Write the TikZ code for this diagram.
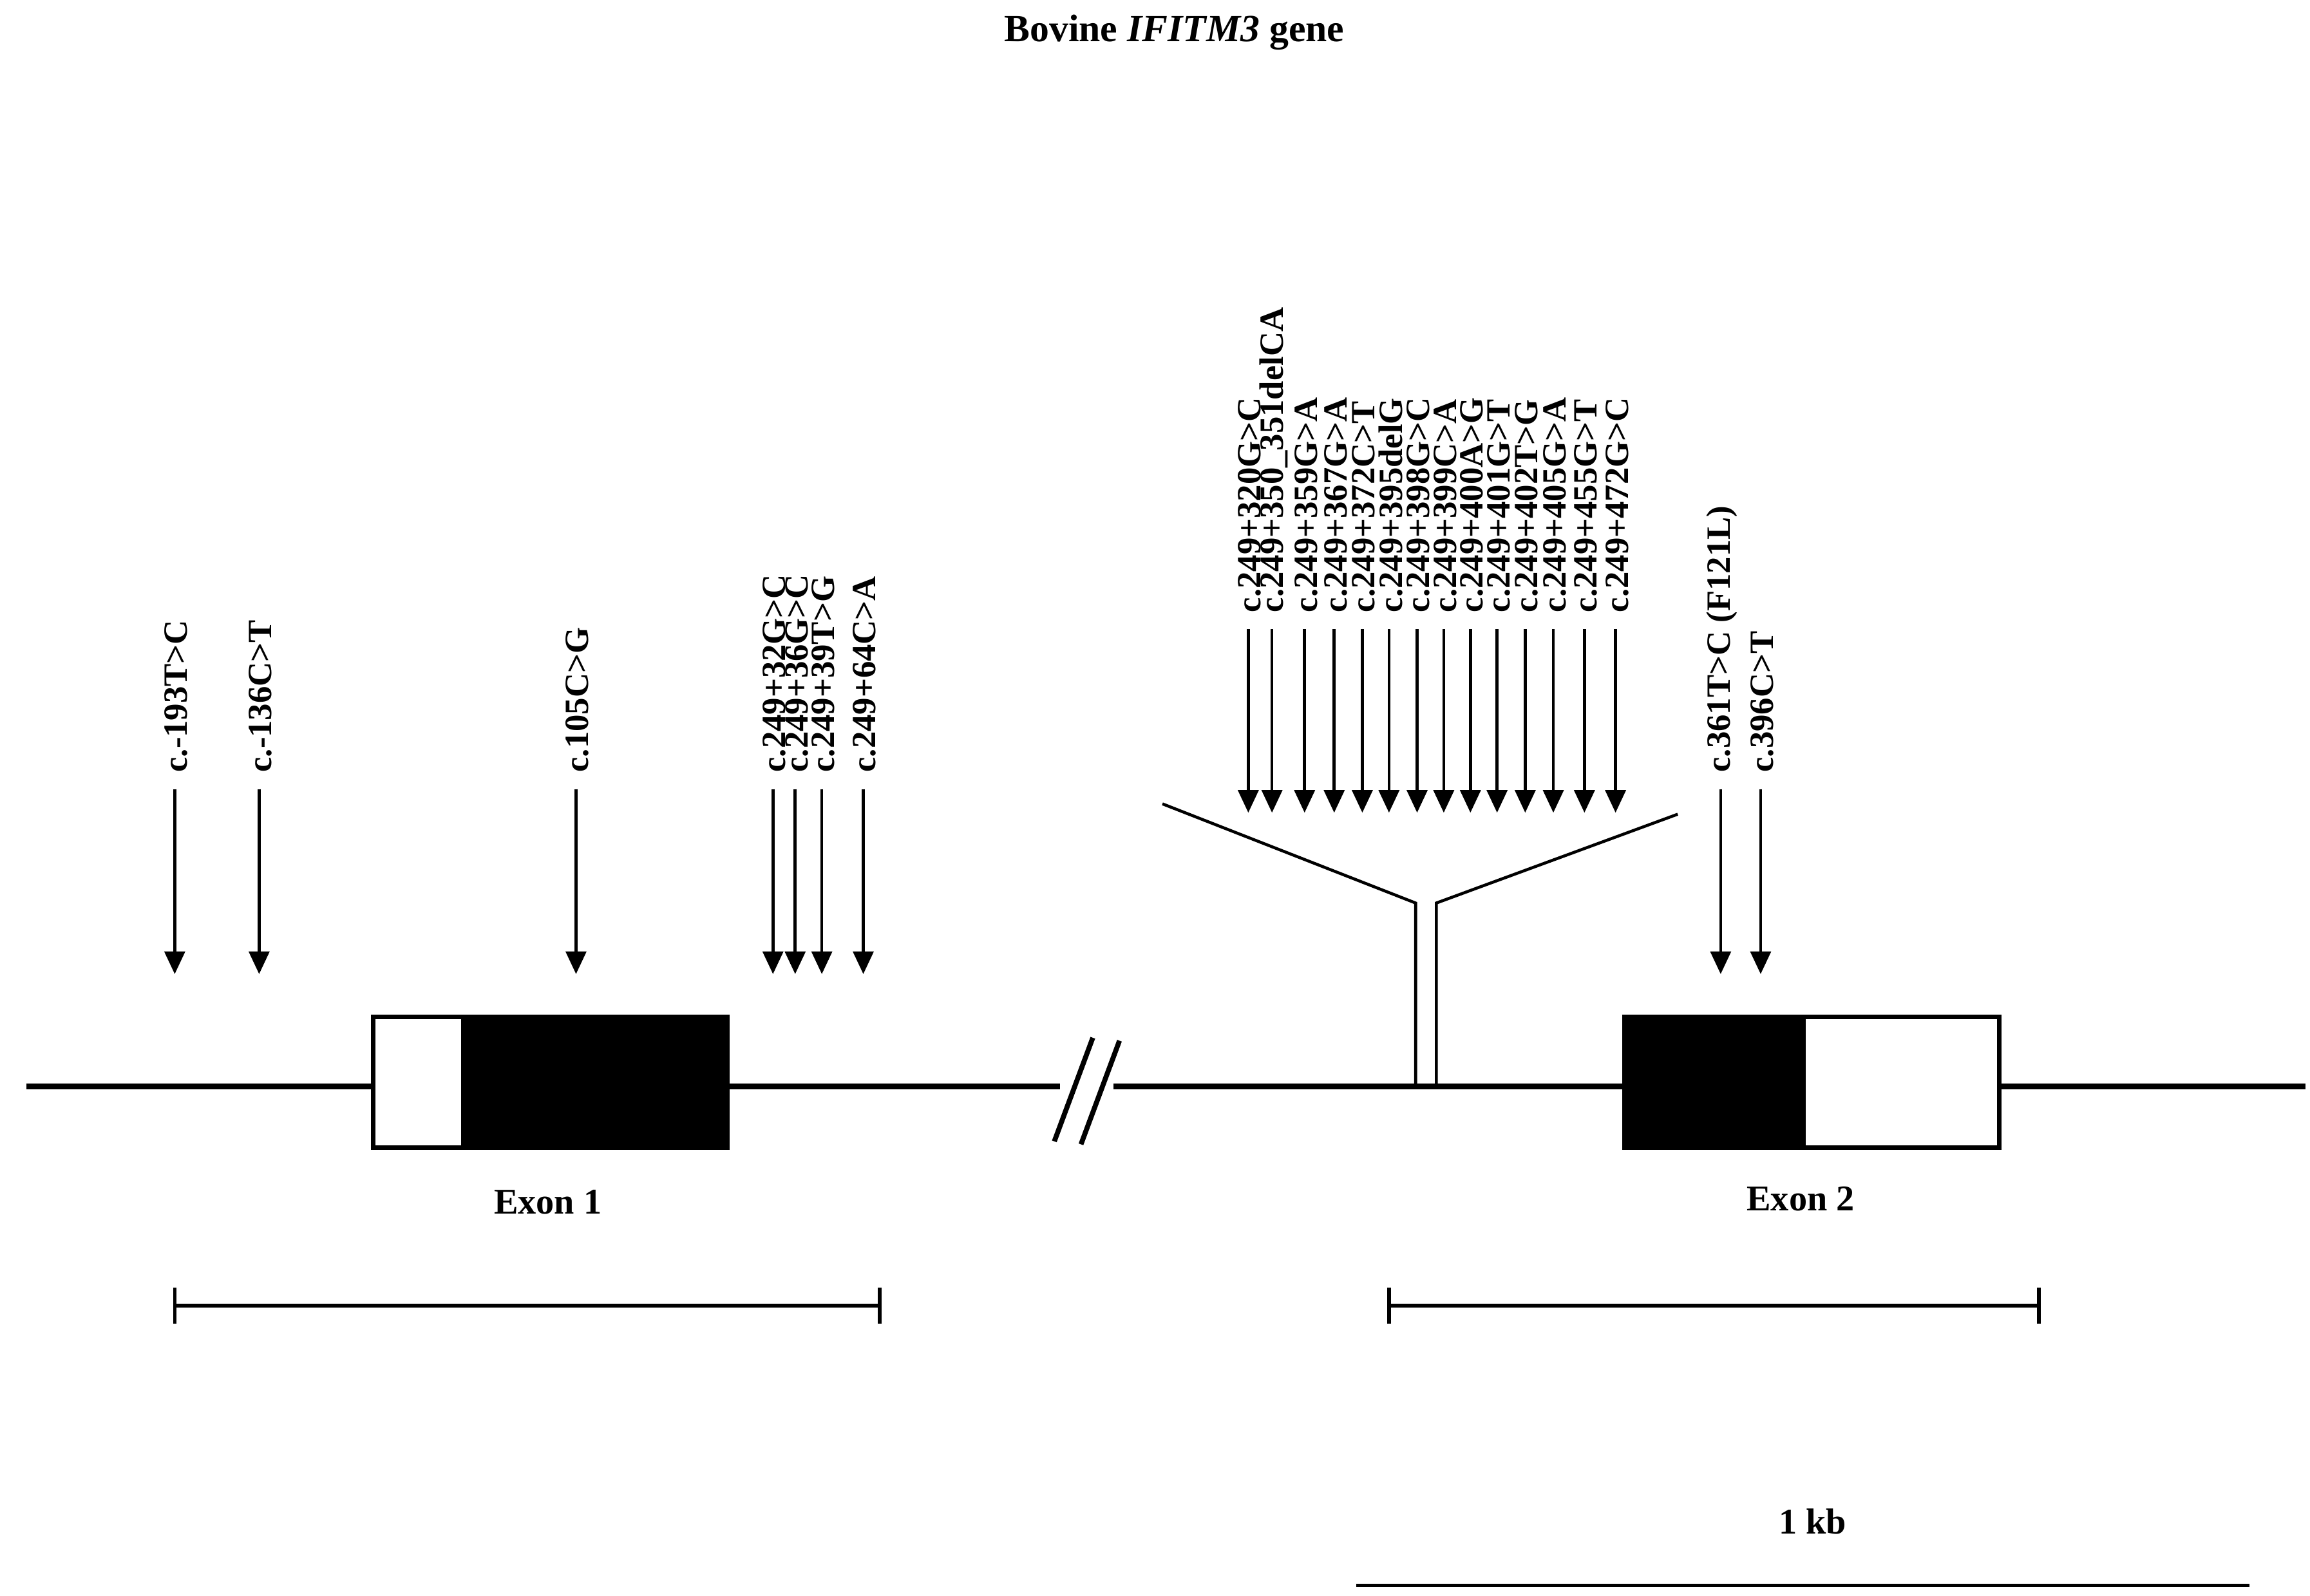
\documentclass[tikz,border=0pt]{standalone}
\usepackage{fontspec}
\setmainfont{Liberation Serif}
\usetikzlibrary{arrows.meta}
\begin{document}
\begin{tikzpicture}[x=0.022994cm,y=-0.022994cm,
  lab/.style={font=\bfseries\fontsize{15}{15}\selectfont,rotate=90,anchor=west,inner sep=0pt},
  mut/.style={line width=1.3pt,-{Triangle[width=9pt,length=10pt]}},
  thick line/.style={line width=2.6pt},
  box/.style={line width=2pt,draw=black}]
\useasboundingbox (0,0) rectangle (1560,1078);
\node[font=\bfseries\fontsize{17}{17}\selectfont] (title) at (793,22) {Bovine \textit{IFITM3} gene};
% main line
\coordinate (L0) at (18,734); \coordinate (L1) at (1557,734);
\draw[thick line] (L0) -- (L1);
% exon 1
\draw[box,fill=white] (252,687) rectangle (313,775);
\draw[box,fill=black] (313,687) rectangle (491,775);
\node[font=\bfseries\fontsize{16}{16}\selectfont] (ex1) at (370,812) {Exon 1};
% exon 2
\draw[box,fill=black] (1097,687) rectangle (1218,775);
\draw[box,fill=white] (1218,687) rectangle (1350,775);
\node[font=\bfseries\fontsize{16}{16}\selectfont] (ex2) at (1216,810) {Exon 2};
% break
\fill[white] (716,724) rectangle (752,744);
\draw[line width=2.2pt] (712,771) -- (738,701);
\draw[line width=2.2pt] (730,773) -- (756,703);
% intron zoom
\draw[line width=1.3pt] (956,734) -- (956,610) -- (785,543);
\draw[line width=1.3pt] (970,734) -- (970,610) -- (1133,550);
% scale bars
\draw[line width=1.6pt] (118,882) -- (594,882) (118,870) -- (118,894) (594,870) -- (594,894);
\draw[line width=1.6pt] (938,882) -- (1377,882) (938,870) -- (938,894) (1377,870) -- (1377,894);
\node[font=\bfseries\fontsize{16}{16}\selectfont] (kb) at (1224,1028) {1 kb};
\draw[line width=1.6pt] (916,1071) -- (1519,1071);
% low arrows
\foreach \n/\x/\t in {a/118/{c.-193T>C},b/175/{c.-136C>T},c/389/{c.105C>G},d/522/{c.249+32G>C},e/537/{c.249+36G>C},f/555/{c.249+39T>G},g/583/{c.249+64C>A},h/1162/{c.361T>C (F121L)},i/1189/{c.396C>T}}{
  \node[lab] (t\n) at (\x+1,522) {\t};
  \coordinate (s\n) at (\x,533); \coordinate (e\n) at (\x,658);
  \draw[mut] (s\n) -- (e\n);
}
% intron arrows
\foreach \n/\x/\t in {m1/843/{c.249+320G>C},m2/859/{c.249+350\_351delCA},m3/881/{c.249+359G>A},m4/901/{c.249+367G>A},m5/920/{c.249+372C>T},m6/938/{c.249+395delG},m7/957/{c.249+398G>C},m8/975/{c.249+399C>A},m9/993/{c.249+400A>G},m10/1011/{c.249+401G>T},m11/1030/{c.249+402T>G},m12/1049/{c.249+405G>A},m13/1070/{c.249+455G>T},m14/1091/{c.249+472G>C}}{
  \node[lab] (t\n) at (\x+1,414) {\t};
  \coordinate (s\n) at (\x,425); \coordinate (e\n) at (\x,549);
  \draw[mut] (s\n) -- (e\n);
}
\end{tikzpicture}
\end{document}
